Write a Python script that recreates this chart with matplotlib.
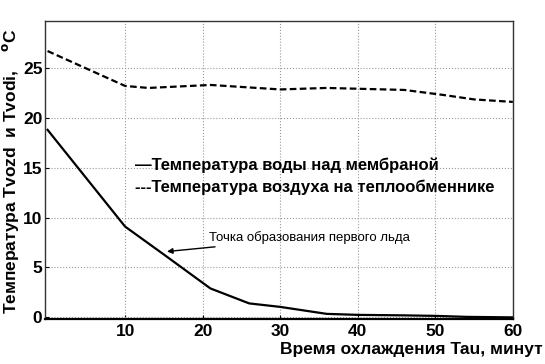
import matplotlib
matplotlib.use("Agg")
import matplotlib.pyplot as plt

plt.rcParams['font.family'] = ['Liberation Sans', 'DejaVu Sans']

# water temperature above membrane
t_water = [0, 10, 15, 21, 26, 30, 36, 40, 46, 50, 54, 60]
water = [18.8, 9.1, 6.3, 2.9, 1.4, 1.05, 0.35, 0.25, 0.2, 0.15, 0.05, 0.0]
# air temperature on the heat exchanger
t_air = [0, 10, 13, 21, 30, 36, 46, 51, 55, 60]
air = [26.7, 23.2, 23.0, 23.3, 22.85, 23.0, 22.8, 22.3, 21.85, 21.6]

xticks = [10, 20, 30, 40, 50, 60]
yticks = [0, 5, 10, 15, 20, 25]

fig = plt.figure(figsize=(5.45, 3.64), dpi=100)
ax = fig.add_axes([0.083, 0.124, 0.858, 0.818])

ax.plot(t_water, water, color='black', lw=1.6)
ax.plot(t_air, air, color='black', lw=1.6, ls=(0, (3, 1.5)))

ax.set_xlim(-0.3, 60)
ax.set_ylim(-0.15, 29.7)
ax.set_xticks(xticks)
ax.set_yticks(yticks)
ax.tick_params(labelsize=12.5, direction='in', length=3)
ax.tick_params(axis='x', pad=4)
ax.tick_params(axis='y', pad=2)
for lbl in ax.get_xticklabels() + ax.get_yticklabels():
    lbl.set_fontweight('bold')
ax.grid(True, ls=':', color='#999999', lw=0.8)
for s in ax.spines.values():
    s.set_linewidth(1.0)
    s.set_color('#333333')
ax.spines['bottom'].set_linewidth(1.6)
ax.spines['bottom'].set_color('black')

ax.text(11.3, 15.2, '\u2014Температура воды над мембраной', fontsize=12,
        fontweight='bold', va='center')
ax.text(11.3, 13.0, '---Температура воздуха на теплообменнике', fontsize=12,
        fontweight='bold', va='center')
ax.annotate('Точка образования первого льда', xy=(15.4, 6.6), xytext=(20.8, 8.0),
            fontsize=9.5, va='center',
            arrowprops=dict(arrowstyle='-|>', color='black', lw=1.0,
                            shrinkA=0, shrinkB=0, mutation_scale=8))

fig.text(0.995, 0.04, 'Время охлаждения Tau, минут', fontsize=12.5,
         fontweight='bold', ha='right', va='center')
fig.text(0.019, 0.53, 'Температура Tvozd  и Tvodi,    $^{\\mathbf{o}}$C', fontsize=12.5,
         fontweight='bold', rotation=90, ha='center', va='center')

fig.savefig('out.png', dpi=100)
